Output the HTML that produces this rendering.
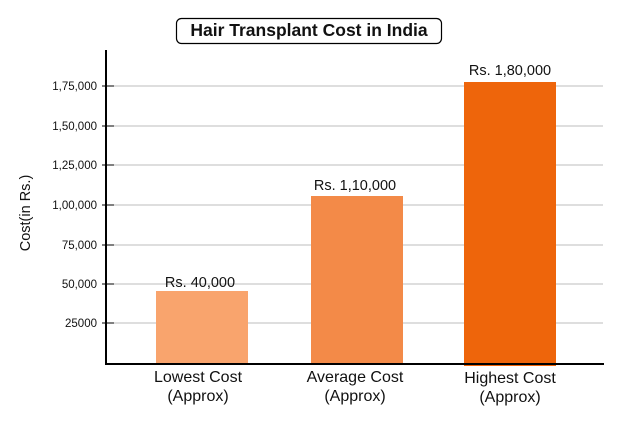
<!DOCTYPE html>
<html><head><style>
body{margin:0;background:#fff;}
svg text{font-family:"Liberation Sans",sans-serif;}
</style></head><body>
<svg width="632" height="420" xmlns="http://www.w3.org/2000/svg">
<rect x="176.5" y="18.5" width="265" height="25" rx="5" fill="#fff" stroke="#000" stroke-width="1.2"/>
<text x="309" y="36" font-size="17.5" font-weight="bold" text-anchor="middle" fill="#111">Hair Transplant Cost in India</text>
<g stroke="#bdbdbd" stroke-width="1">
<line x1="107" y1="86" x2="603" y2="86"/>
<line x1="107" y1="126" x2="603" y2="126"/>
<line x1="107" y1="165" x2="603" y2="165"/>
<line x1="107" y1="205" x2="603" y2="205"/>
<line x1="107" y1="245" x2="603" y2="245"/>
<line x1="107" y1="284" x2="603" y2="284"/>
<line x1="107" y1="323" x2="603" y2="323"/>
</g>
<g stroke="#000" stroke-width="1">
<line x1="102" y1="86" x2="114" y2="86"/><line x1="102" y1="126" x2="114" y2="126"/>
<line x1="102" y1="165" x2="114" y2="165"/><line x1="102" y1="205" x2="114" y2="205"/>
<line x1="102" y1="245" x2="114" y2="245"/><line x1="102" y1="284" x2="114" y2="284"/>
<line x1="102" y1="323" x2="114" y2="323"/>
</g>
<g font-size="11.5" text-anchor="end" fill="#111">
<text x="97" y="90">1,75,000</text><text x="97" y="130">1,50,000</text>
<text x="97" y="169">1,25,000</text><text x="97" y="209">1,00,000</text>
<text x="97" y="249">75,000</text><text x="97" y="288">50,000</text>
<text x="97" y="327">25000</text>
</g>
<rect x="156" y="291" width="92" height="73" fill="#f9a46d"/>
<rect x="311" y="196" width="92" height="168" fill="#f38a48"/>
<rect x="464" y="82" width="92" height="284" fill="#ee650b"/>
<line x1="106" y1="50" x2="106" y2="365" stroke="#000" stroke-width="2"/>
<line x1="105" y1="364" x2="604" y2="364" stroke="#000" stroke-width="2"/>
<g font-size="14.5" text-anchor="middle" fill="#111">
<text x="200" y="287">Rs. 40,000</text>
<text x="355" y="190">Rs. 1,10,000</text>
<text x="510" y="75">Rs. 1,80,000</text>
</g>
<g font-size="16" text-anchor="middle" fill="#111">
<text x="198" y="382">Lowest Cost</text><text x="198" y="401">(Approx)</text>
<text x="355" y="382">Average Cost</text><text x="355" y="401">(Approx)</text>
<text x="510" y="383">Highest Cost</text><text x="510" y="402">(Approx)</text>
</g>
<text transform="translate(30,213) rotate(-90)" font-size="14.5" text-anchor="middle" fill="#111">Cost(in Rs.)</text>
</svg>
</body></html>
